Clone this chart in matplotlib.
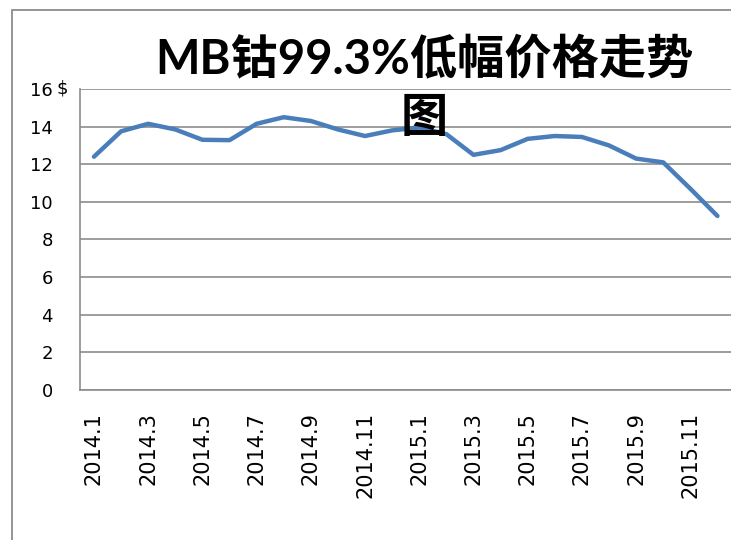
import numpy as np
import matplotlib
matplotlib.use('Agg')
import matplotlib.pyplot as plt
from matplotlib.patches import Rectangle

months = ['2014.1', '2014.2', '2014.3', '2014.4', '2014.5', '2014.6',
          '2014.7', '2014.8', '2014.9', '2014.10', '2014.11', '2014.12',
          '2015.1', '2015.2', '2015.3', '2015.4', '2015.5', '2015.6',
          '2015.7', '2015.8', '2015.9', '2015.10', '2015.11', '2015.12']
prices = [12.4, 13.75, 14.15, 13.85, 13.3, 13.28, 14.15, 14.5, 14.3, 13.85,
          13.5, 13.8, 13.95, 13.6, 12.5, 12.75, 13.35, 13.5, 13.45, 13.0,
          12.3, 12.1, 10.7, 9.25]
yticks = [0, 2, 4, 6, 8, 10, 12, 14, 16]
title = 'MB钴99.3%低幅价格走势\n图'

plt.rcParams['font.family'] = ['DejaVu Sans', 'Noto Sans CJK SC']

fig = plt.figure(figsize=(7.31, 5.40), dpi=100)
ax = fig.add_axes([0.110, 0.2778, 0.890, 0.5574])

x = np.arange(len(months))
ax.plot(x, prices, color='#4A7EBB', lw=3.2, solid_capstyle='round', zorder=3)

ax.set_xlim(-0.5, len(months) - 0.5)
ax.set_ylim(0, 16)
ax.set_yticks(yticks)
ax.set_xticks(x[::2])
ax.set_xticklabels(months[::2], rotation=90, fontsize=15)
ax.tick_params(axis='y', length=0, pad=20, labelsize=13)
ax.tick_params(axis='x', length=0, pad=16)
ax.grid(axis='y', color='#8C8C8C', lw=1.2)
ax.set_axisbelow(True)
for s in ['top', 'right']:
    ax.spines[s].set_visible(False)
for s in ['left', 'bottom']:
    ax.spines[s].set_color('#8C8C8C')
    ax.spines[s].set_linewidth(1.2)

ax.text(-0.037, 1.0, '$', transform=ax.transAxes, fontsize=13,
        ha='left', va='center')

fig.text(0.58, 0.836, title, ha='center', va='center', fontsize=34,
         fontweight='bold', linespacing=1.4,
         family=['Lato', 'Noto Sans CJK SC'])

fig.patches.append(Rectangle((12 / 731, -0.1), 1.2, 1.1 - 10 / 540,
                             transform=fig.transFigure, fill=False,
                             edgecolor='#8C8C8C', lw=1.3))

fig.savefig('out.png', dpi=100)
